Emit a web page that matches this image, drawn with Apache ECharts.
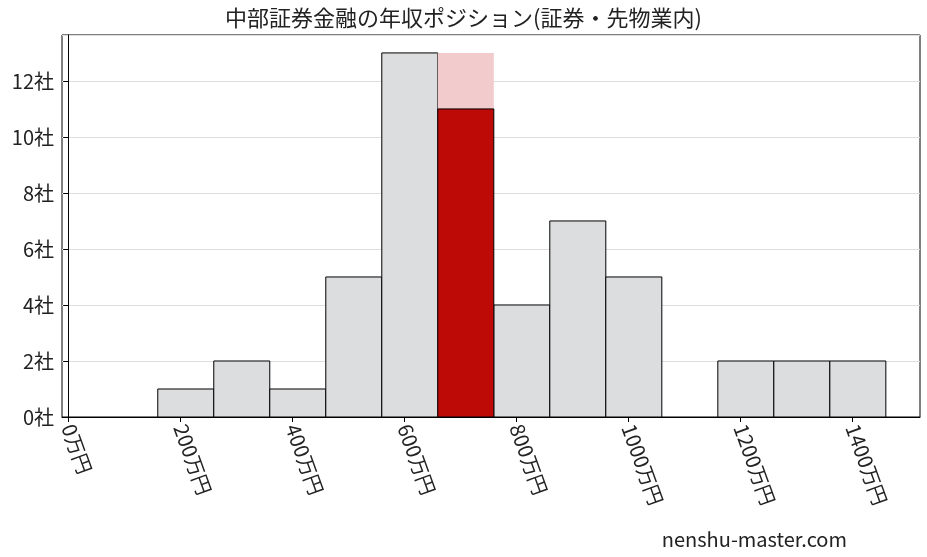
<!DOCTYPE html>
<html><head><meta charset="utf-8">
<script src="https://cdn.jsdelivr.net/npm/echarts@6/dist/echarts.min.js"></script>
<style>html,body{margin:0;background:#fff}#main{width:927px;height:557px}</style>
</head><body><div id="main"></div>
<script>
// ビン(万円)と社数
var binStarts = [160, 260, 360, 460, 560, 660, 760, 860, 960, 1060, 1160, 1260, 1360];
var counts = [1, 2, 1, 5, 13, 11, 4, 7, 5, 0, 2, 2, 2];
var binWidth = 100;
var highlightIndex = 5;
var highlightTotal = 13;
var xTicks = [0, 200, 400, 600, 800, 1000, 1200, 1400];

var font = '"Noto Sans CJK JP", serif';
var chart = echarts.init(document.getElementById('main'));

function rectItem(color, stroke) {
    return function (params, api) {
        var x0 = api.value(0), h = api.value(1);
        var p0 = api.coord([x0, h]);
        var p1 = api.coord([x0 + binWidth, 0]);
        return {
            type: 'rect',
            shape: {x: p0[0], y: p0[1], width: p1[0] - p0[0], height: p1[1] - p0[1]},
            style: {fill: color, stroke: stroke, lineWidth: 1}
        };
    };
}

var grayData = [], redData = [];
binStarts.forEach(function (s, i) {
    if (i == highlightIndex) {
        redData.push([s, counts[i]]);
    } else if (counts[i] > 0) {
        grayData.push([s, counts[i]]);
    }
});

var option = {
    animation: false,
    title: {
        text: '中部証券金融の年収ポジション(証券・先物業内)',
        left: 'center', top: 2,
        textStyle: {fontFamily: font, fontSize: 22, fontWeight: 'normal', color: '#222'}
    },
    graphic: [{
        type: 'text', right: 80, bottom: 8,
        style: {text: 'nenshu-master.com', font: '20px ' + font, fill: '#222'}
    }],
    grid: {left: 62, right: 7, top: 35, bottom: 140, show: true, borderColor: '#000', borderWidth: 1, containLabel: false},
    xAxis: {
        type: 'value', min: -11, max: 1521,
        interval: 200,
        axisLine: {show: true, onZero: false, lineStyle: {color: '#000'}},
        axisTick: {show: true, customValues: xTicks, lineStyle: {color: '#000'}},
        splitLine: {show: false},
        axisLabel: {
            customValues: xTicks, rotate: -70, fontFamily: font, fontSize: 20, color: '#222',
            formatter: function (v) { return v + '万円'; }
        }
    },
    yAxis: {
        type: 'value', min: 0, max: 13.64, interval: 2,
        axisLine: {show: true, lineStyle: {color: '#000'}},
        axisTick: {show: true, lineStyle: {color: '#000'}},
        splitLine: {lineStyle: {color: '#ddd'}},
        axisLabel: {
            fontFamily: font, fontSize: 20, color: '#222',
            formatter: function (v) { return v + '社'; },
            showMaxLabel: false
        }
    },
    series: [
        {type: 'custom', renderItem: rectItem('#dcdddf', '#000'), data: grayData},
        {type: 'custom', renderItem: rectItem('#f2cbcc', 'none'),
            data: [[binStarts[highlightIndex], highlightTotal]]},
        {type: 'custom', renderItem: rectItem('#be0a07', '#000'), data: redData}
    ]
};
chart.setOption(option);
</script>
</body></html>
